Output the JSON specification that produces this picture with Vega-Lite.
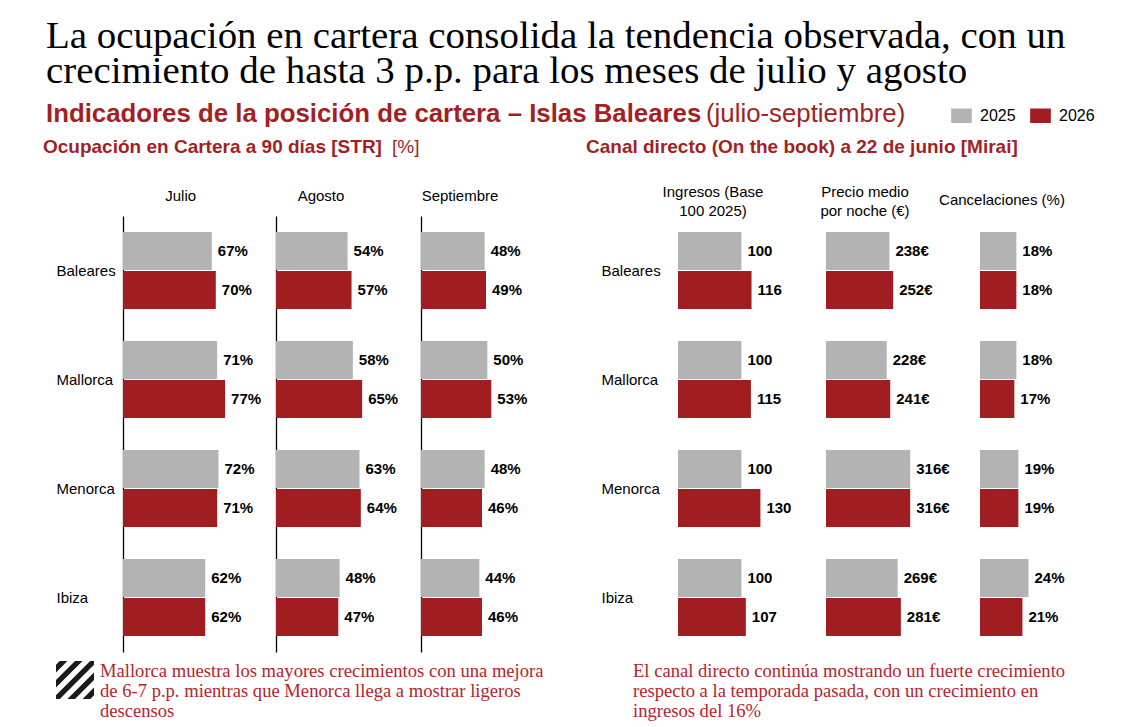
{
  "$schema": "https://vega.github.io/schema/vega-lite/v6.json",
  "autosize": {"type": "pad"},
  "padding": {"left": 43, "top": 17, "right": 0, "bottom": 0},
  "background": "white",
  "title": {
    "text": ["La ocupación en cartera consolida la tendencia observada, con un", "crecimiento de hasta 3 p.p. para los meses de julio y agosto"],
    "subtitle": "Indicadores de la posición de cartera – Islas Baleares",
    "anchor": "start",
    "frame": "bounds",
    "font": "Liberation Serif",
    "fontSize": 38.9,
    "fontWeight": "normal",
    "lineHeight": 35,
    "color": "#000000",
    "dx": 3,
    "offset": -22,
    "subtitleFont": "Liberation Sans",
    "subtitleFontSize": 25.8,
    "subtitleFontWeight": "bold",
    "subtitleColor": "#a21f24",
    "subtitlePadding": 11
  },
  "config": {
    "view": {"stroke": null},
    "font": "Liberation Sans",
    "bar": {"stroke": null},
    "text": {"font": "Liberation Sans"},
    "axis": {"grid": false, "ticks": false, "tickSize": 0, "domainColor": "#000000", "domainWidth": 1.3, "labelFont": "Liberation Sans", "labelFontSize": 15, "labelColor": "#000000", "title": null},
    "legend": {
      "orient": "none",
      "direction": "horizontal",
      "titleOrient": "left",
      "titleFont": "Liberation Sans",
      "titleFontSize": 25.8,
      "titleFontWeight": "normal",
      "titleColor": "#a21f24",
      "titlePadding": 45,
      "titleLimit": 400,
      "titleBaseline": "middle",
      "labelFont": "Liberation Sans",
      "labelFontSize": 16,
      "labelColor": "#000000",
      "labelOffset": 8,
      "columnPadding": 14,
      "symbolStrokeWidth": 0,
      "symbolOpacity": 1
    }
  },
  "datasets": {
    "cartera": [
      {"panel": "Julio", "island": "Baleares", "year": "2025", "v": 67},
      {"panel": "Julio", "island": "Baleares", "year": "2026", "v": 70},
      {"panel": "Julio", "island": "Mallorca", "year": "2025", "v": 71},
      {"panel": "Julio", "island": "Mallorca", "year": "2026", "v": 77},
      {"panel": "Julio", "island": "Menorca", "year": "2025", "v": 72},
      {"panel": "Julio", "island": "Menorca", "year": "2026", "v": 71},
      {"panel": "Julio", "island": "Ibiza", "year": "2025", "v": 62},
      {"panel": "Julio", "island": "Ibiza", "year": "2026", "v": 62},
      {"panel": "Agosto", "island": "Baleares", "year": "2025", "v": 54},
      {"panel": "Agosto", "island": "Baleares", "year": "2026", "v": 57},
      {"panel": "Agosto", "island": "Mallorca", "year": "2025", "v": 58},
      {"panel": "Agosto", "island": "Mallorca", "year": "2026", "v": 65},
      {"panel": "Agosto", "island": "Menorca", "year": "2025", "v": 63},
      {"panel": "Agosto", "island": "Menorca", "year": "2026", "v": 64},
      {"panel": "Agosto", "island": "Ibiza", "year": "2025", "v": 48},
      {"panel": "Agosto", "island": "Ibiza", "year": "2026", "v": 47},
      {"panel": "Septiembre", "island": "Baleares", "year": "2025", "v": 48},
      {"panel": "Septiembre", "island": "Baleares", "year": "2026", "v": 49},
      {"panel": "Septiembre", "island": "Mallorca", "year": "2025", "v": 50},
      {"panel": "Septiembre", "island": "Mallorca", "year": "2026", "v": 53},
      {"panel": "Septiembre", "island": "Menorca", "year": "2025", "v": 48},
      {"panel": "Septiembre", "island": "Menorca", "year": "2026", "v": 46},
      {"panel": "Septiembre", "island": "Ibiza", "year": "2025", "v": 44},
      {"panel": "Septiembre", "island": "Ibiza", "year": "2026", "v": 46}
    ],
    "directo": [
      {"panel": "Ingresos", "island": "Baleares", "year": "2025", "v": 100},
      {"panel": "Ingresos", "island": "Baleares", "year": "2026", "v": 116},
      {"panel": "Ingresos", "island": "Mallorca", "year": "2025", "v": 100},
      {"panel": "Ingresos", "island": "Mallorca", "year": "2026", "v": 115},
      {"panel": "Ingresos", "island": "Menorca", "year": "2025", "v": 100},
      {"panel": "Ingresos", "island": "Menorca", "year": "2026", "v": 130},
      {"panel": "Ingresos", "island": "Ibiza", "year": "2025", "v": 100},
      {"panel": "Ingresos", "island": "Ibiza", "year": "2026", "v": 107},
      {"panel": "Precio", "island": "Baleares", "year": "2025", "v": 238},
      {"panel": "Precio", "island": "Baleares", "year": "2026", "v": 252},
      {"panel": "Precio", "island": "Mallorca", "year": "2025", "v": 228},
      {"panel": "Precio", "island": "Mallorca", "year": "2026", "v": 241},
      {"panel": "Precio", "island": "Menorca", "year": "2025", "v": 316},
      {"panel": "Precio", "island": "Menorca", "year": "2026", "v": 316},
      {"panel": "Precio", "island": "Ibiza", "year": "2025", "v": 269},
      {"panel": "Precio", "island": "Ibiza", "year": "2026", "v": 281},
      {"panel": "Cancelaciones", "island": "Baleares", "year": "2025", "v": 18},
      {"panel": "Cancelaciones", "island": "Baleares", "year": "2026", "v": 18},
      {"panel": "Cancelaciones", "island": "Mallorca", "year": "2025", "v": 18},
      {"panel": "Cancelaciones", "island": "Mallorca", "year": "2026", "v": 17},
      {"panel": "Cancelaciones", "island": "Menorca", "year": "2025", "v": 19},
      {"panel": "Cancelaciones", "island": "Menorca", "year": "2026", "v": 19},
      {"panel": "Cancelaciones", "island": "Ibiza", "year": "2025", "v": 24},
      {"panel": "Cancelaciones", "island": "Ibiza", "year": "2026", "v": 21}
    ]
  },
  "spacing": 35,
  "resolve": {"scale": {"x": "independent"}},
  "hconcat": [
    {
      "title": {"text": ["Mallorca muestra los mayores crecimientos con una mejora", "de 6-7 p.p. mientras que Menorca llega a mostrar ligeros", "descensos"], "orient": "bottom", "anchor": "start", "frame": "group", "dx": -23, "offset": 10, "font": "Liberation Serif", "fontSize": 18.6, "fontWeight": "normal", "lineHeight": 20, "color": "#b0262d", "baseline": "top"},
      "resolve": {"scale": {"x": "independent"}},
      "vconcat": [
        {
          "title": {"text": "Ocupación en Cartera a 90 días [STR]", "anchor": "start", "frame": "group", "dx": -80, "dy": 19, "offset": 0, "fontSize": 19, "fontWeight": "bold", "color": "#a21f24"},
          "resolve": {"scale": {"x": "independent"}},
          "vconcat": [
            {
              "title": {"text": "[%]", "anchor": "start", "frame": "group", "dx": 269, "offset": 32, "fontSize": 19, "fontWeight": "normal", "color": "#a21f24"},
              "bounds": "flush",
              "spacing": 0,
              "resolve": {"scale": {"x": "independent"}},
              "hconcat": [
                {
                  "width": 153, "height": 436,
                  "data": {"name": "cartera"},
                  "title": {"text": "Julio", "anchor": "start", "frame": "group", "align": "center", "dx": 57.7, "offset": 12, "fontSize": 15, "fontWeight": "normal", "color": "#000000"},
                  "transform": [{"filter": "datum.panel === 'Julio'"}, {"calculate": "datum.v + '%'", "as": "label"}],
                  "encoding": {
                    "y": {"field": "island", "type": "nominal", "sort": ["Baleares", "Mallorca", "Menorca", "Ibiza"], "scale": {"paddingInner": 0.294, "paddingOuter": 0.147}, "axis": {"labelAlign": "left", "labelPadding": 67, "domain": true}},
                    "yOffset": {"field": "year", "type": "nominal", "scale": {"paddingInner": 0.03, "paddingOuter": 0}},
                    "x": {"field": "v", "type": "quantitative", "scale": {"domain": [0, 115.4]}, "axis": null}
                  },
                  "layer": [
                    {"mark": {"type": "bar"}, "encoding": {
                      "color": {"field": "year", "type": "nominal", "scale": {"domain": ["2025", "2026"], "range": ["#b3b3b3", "#a01e22"]}, "legend": {"title": "(julio-septiembre)", "legendX": 583, "legendY": -111, "symbolType": "M-1,-0.7H1V0.7H-1Z", "symbolSize": 428}},
                      "opacity": {"datum": "nota", "type": "nominal", "scale": {"range": [1]}, "legend": {"title": null, "legendX": -67, "legendY": 445, "labelExpr": "''", "symbolFillColor": "#1a1a1a", "symbolSize": 1444, "symbolType": "M-0.8,-1L-0.4,-1L-1,-0.4L-1,-0.8ZM0,-1L0.4,-1L-1,0.4L-1,0ZM0.8,-1L1,-1L1,-0.8L-0.8,1L-1,1L-1,0.8ZM1,-0.4L1,0L0,1L-0.4,1ZM1,0.4L1,0.8L0.8,1L0.4,1Z"}}
                    }},
                    {"mark": {"type": "text", "align": "left", "baseline": "middle", "dx": 6, "fontSize": 15, "fontWeight": "bold", "color": "#000000"}, "encoding": {"text": {"field": "label", "type": "nominal"}}}
                  ]
                },
                {
                  "width": 145, "height": 436,
                  "data": {"name": "cartera"},
                  "title": {"text": "Agosto", "anchor": "start", "frame": "group", "align": "center", "dx": 45, "offset": 12, "fontSize": 15, "fontWeight": "normal", "color": "#000000"},
                  "transform": [{"filter": "datum.panel === 'Agosto'"}, {"calculate": "datum.v + '%'", "as": "label"}],
                  "encoding": {
                    "y": {"field": "island", "type": "nominal", "sort": ["Baleares", "Mallorca", "Menorca", "Ibiza"], "scale": {"paddingInner": 0.294, "paddingOuter": 0.147}, "axis": {"labels": false, "domain": true}},
                    "yOffset": {"field": "year", "type": "nominal", "scale": {"paddingInner": 0.03, "paddingOuter": 0}},
                    "x": {"field": "v", "type": "quantitative", "scale": {"domain": [0, 109.4]}, "axis": null}
                  },
                  "layer": [
                    {"mark": {"type": "bar"}, "encoding": {"color": {"field": "year", "type": "nominal", "scale": {"domain": ["2025", "2026"], "range": ["#b3b3b3", "#a01e22"]}, "legend": {"title": "(julio-septiembre)", "legendX": 583, "legendY": -111, "symbolType": "M-1,-0.7H1V0.7H-1Z", "symbolSize": 428}}}},
                    {"mark": {"type": "text", "align": "left", "baseline": "middle", "dx": 6, "fontSize": 15, "fontWeight": "bold", "color": "#000000"}, "encoding": {"text": {"field": "label", "type": "nominal"}}}
                  ]
                },
                {
                  "width": 130, "height": 436,
                  "data": {"name": "cartera"},
                  "title": {"text": "Septiembre", "anchor": "start", "frame": "group", "align": "center", "dx": 39, "offset": 12, "fontSize": 15, "fontWeight": "normal", "color": "#000000"},
                  "transform": [{"filter": "datum.panel === 'Septiembre'"}, {"calculate": "datum.v + '%'", "as": "label"}],
                  "encoding": {
                    "y": {"field": "island", "type": "nominal", "sort": ["Baleares", "Mallorca", "Menorca", "Ibiza"], "scale": {"paddingInner": 0.294, "paddingOuter": 0.147}, "axis": {"labels": false, "domain": true}},
                    "yOffset": {"field": "year", "type": "nominal", "scale": {"paddingInner": 0.03, "paddingOuter": 0}},
                    "x": {"field": "v", "type": "quantitative", "scale": {"domain": [0, 98.0]}, "axis": null}
                  },
                  "layer": [
                    {"mark": {"type": "bar"}, "encoding": {"color": {"field": "year", "type": "nominal", "scale": {"domain": ["2025", "2026"], "range": ["#b3b3b3", "#a01e22"]}, "legend": {"title": "(julio-septiembre)", "legendX": 583, "legendY": -111, "symbolType": "M-1,-0.7H1V0.7H-1Z", "symbolSize": 428}}}},
                    {"mark": {"type": "text", "align": "left", "baseline": "middle", "dx": 6, "fontSize": 15, "fontWeight": "bold", "color": "#000000"}, "encoding": {"text": {"field": "label", "type": "nominal"}}}
                  ]
                }
              ]
            }
          ]
        }
      ]
    },
    {
      "title": {"text": ["El canal directo continúa mostrando un fuerte crecimiento", "respecto a la temporada pasada, con un crecimiento en", "ingresos del 16%"], "orient": "bottom", "anchor": "start", "frame": "group", "dx": -45, "offset": 10, "font": "Liberation Serif", "fontSize": 18.6, "fontWeight": "normal", "lineHeight": 20, "color": "#b0262d", "baseline": "top"},
      "resolve": {"scale": {"x": "independent"}},
      "vconcat": [
        {
          "title": {"text": "Canal directo (On the book) a 22 de junio [Mirai]", "anchor": "start", "frame": "group", "dx": -92, "offset": 28, "fontSize": 19, "fontWeight": "bold", "color": "#a21f24"},
          "bounds": "flush",
          "spacing": 0,
          "resolve": {"scale": {"x": "independent"}},
          "hconcat": [
            {
              "width": 147.7, "height": 436,
              "data": {"name": "directo"},
              "title": {"text": ["Ingresos (Base", "100 2025)"], "anchor": "start", "frame": "group", "align": "center", "dx": 35, "offset": -3, "fontSize": 15, "lineHeight": 19, "fontWeight": "normal", "color": "#000000"},
              "transform": [{"filter": "datum.panel === 'Ingresos'"}, {"calculate": "'' + datum.v", "as": "label"}],
              "encoding": {
                "y": {"field": "island", "type": "nominal", "sort": ["Baleares", "Mallorca", "Menorca", "Ibiza"], "scale": {"paddingInner": 0.294, "paddingOuter": 0.147}, "axis": {"labelAlign": "left", "labelPadding": 77, "domain": false}},
                "yOffset": {"field": "year", "type": "nominal", "scale": {"paddingInner": 0.03, "paddingOuter": 0}},
                "x": {"field": "v", "type": "quantitative", "scale": {"domain": [0, 233]}, "axis": null}
              },
              "layer": [
                {"mark": {"type": "bar"}, "encoding": {"color": {"field": "year", "type": "nominal", "scale": {"domain": ["2025", "2026"], "range": ["#b3b3b3", "#a01e22"]}, "legend": {"title": "(julio-septiembre)", "legendX": 583, "legendY": -111, "symbolType": "M-1,-0.7H1V0.7H-1Z", "symbolSize": 428}}}},
                {"mark": {"type": "text", "align": "left", "baseline": "middle", "dx": 6, "fontSize": 15, "fontWeight": "bold", "color": "#000000"}, "encoding": {"text": {"field": "label", "type": "nominal"}}}
              ]
            },
            {
              "width": 154, "height": 436,
              "data": {"name": "directo"},
              "title": {"text": ["Precio medio", "por noche (€)"], "anchor": "start", "frame": "group", "align": "center", "dx": 39, "offset": -3, "fontSize": 15, "lineHeight": 19, "fontWeight": "normal", "color": "#000000"},
              "transform": [{"filter": "datum.panel === 'Precio'"}, {"calculate": "datum.v + '€'", "as": "label"}],
              "encoding": {
                "y": {"field": "island", "type": "nominal", "sort": ["Baleares", "Mallorca", "Menorca", "Ibiza"], "scale": {"paddingInner": 0.294, "paddingOuter": 0.147}, "axis": null},
                "yOffset": {"field": "year", "type": "nominal", "scale": {"paddingInner": 0.03, "paddingOuter": 0}},
                "x": {"field": "v", "type": "quantitative", "scale": {"domain": [0, 578]}, "axis": null}
              },
              "layer": [
                {"mark": {"type": "bar"}, "encoding": {"color": {"field": "year", "type": "nominal", "scale": {"domain": ["2025", "2026"], "range": ["#b3b3b3", "#a01e22"]}, "legend": {"title": "(julio-septiembre)", "legendX": 583, "legendY": -111, "symbolType": "M-1,-0.7H1V0.7H-1Z", "symbolSize": 428}}}},
                {"mark": {"type": "text", "align": "left", "baseline": "middle", "dx": 6, "fontSize": 15, "fontWeight": "bold", "color": "#000000"}, "encoding": {"text": {"field": "label", "type": "nominal"}}}
              ]
            },
            {
              "width": 100, "height": 436,
              "data": {"name": "directo"},
              "title": {"text": "Cancelaciones (%)", "anchor": "start", "frame": "group", "align": "center", "dx": 22, "offset": 8, "fontSize": 15, "fontWeight": "normal", "color": "#000000"},
              "transform": [{"filter": "datum.panel === 'Cancelaciones'"}, {"calculate": "datum.v + '%'", "as": "label"}],
              "encoding": {
                "y": {"field": "island", "type": "nominal", "sort": ["Baleares", "Mallorca", "Menorca", "Ibiza"], "scale": {"paddingInner": 0.294, "paddingOuter": 0.147}, "axis": null},
                "yOffset": {"field": "year", "type": "nominal", "scale": {"paddingInner": 0.03, "paddingOuter": 0}},
                "x": {"field": "v", "type": "quantitative", "scale": {"domain": [0, 49.5]}, "axis": null}
              },
              "layer": [
                {"mark": {"type": "bar"}, "encoding": {"color": {"field": "year", "type": "nominal", "scale": {"domain": ["2025", "2026"], "range": ["#b3b3b3", "#a01e22"]}, "legend": {"title": "(julio-septiembre)", "legendX": 583, "legendY": -111, "symbolType": "M-1,-0.7H1V0.7H-1Z", "symbolSize": 428}}}},
                {"mark": {"type": "text", "align": "left", "baseline": "middle", "dx": 6, "fontSize": 15, "fontWeight": "bold", "color": "#000000"}, "encoding": {"text": {"field": "label", "type": "nominal"}}}
              ]
            }
          ]
        }
      ]
    }
  ]
}
